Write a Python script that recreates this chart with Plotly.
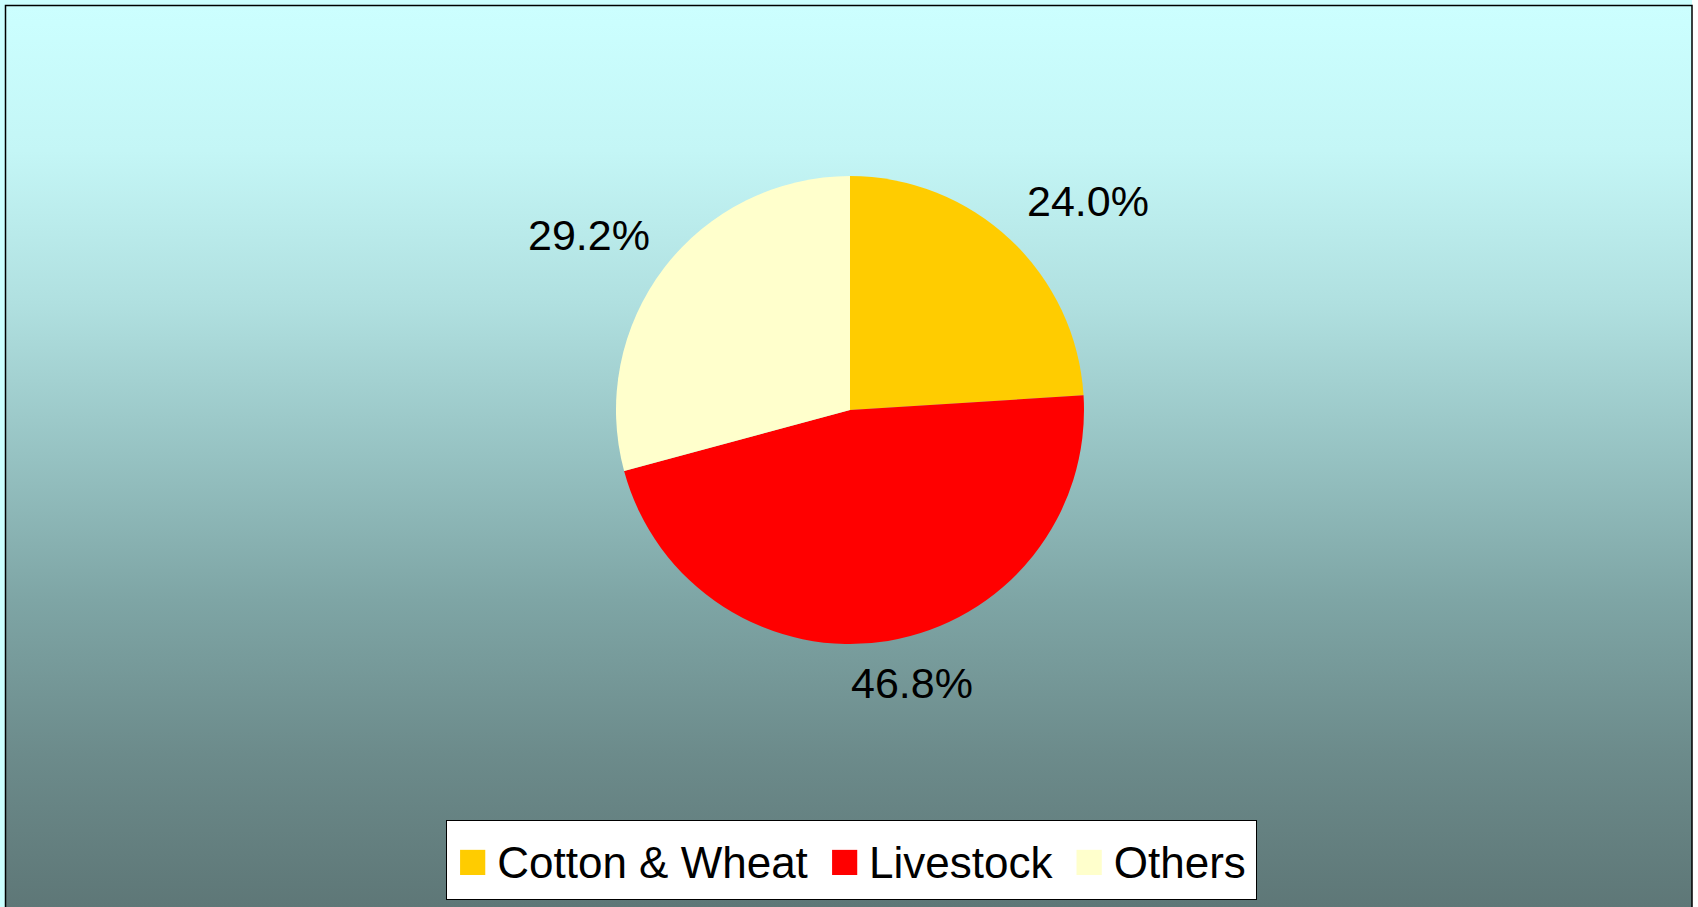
import math
import plotly.graph_objects as go

# data
labels = ["Cotton & Wheat", "Livestock", "Others"]
shares = [24.0, 46.8, 29.2]
colors = ["#FFCC00", "#FF0000", "#FFFFCC"]

W, H = 1698, 907
FONT = "Liberation Sans, Arial, sans-serif"

# pie geometry in pixels
cx, cy, R = 850, 410, 234


def px_x(x):
    return x / W


def px_y(y):
    return (H - y) / H


fig = go.Figure()

# gradient background (chart area)
fig.add_trace(
    go.Scatter(
        x=[6, 1692, 1692, 6, 6],
        y=[-20, -20, H - 6, H - 6, -20],
        mode="lines",
        line=dict(width=0),
        fill="toself",
        fillgradient=dict(
            type="vertical",
            start=0,
            stop=H - 6,
            colorscale=[
                [0.0, "rgb(94,119,119)"],
                [0.17, "rgb(108,139,139)"],
                [0.34, "rgb(126,165,165)"],
                [0.5, "rgb(150,194,194)"],
                [0.67, "rgb(176,224,224)"],
                [0.84, "rgb(196,246,246)"],
                [1.0, "rgb(204,255,255)"],
            ],
        ),
        hoverinfo="skip",
        showlegend=False,
    )
)

fig.add_trace(
    go.Pie(
        labels=labels,
        values=shares,
        marker=dict(colors=colors, line=dict(width=0)),
        sort=False,
        direction="clockwise",
        rotation=0,
        textinfo="none",
        hoverinfo="label+percent",
        showlegend=False,
        domain=dict(
            x=[px_x(cx - R), px_x(cx + R)],
            y=[px_y(cy + R), px_y(cy - R)],
        ),
    )
)

# percentage labels placed around the pie from the slice mid angles
total = sum(shares)
cum = 0
annotations = []
for lab, v in zip(labels, shares):
    mid = (cum + v / 2) / total * 2 * math.pi
    cum += v
    lx = cx + 7 + 1.44 * R * math.sin(mid)
    ly = cy - 4 - 1.2 * R * math.cos(mid)
    annotations.append(
        dict(
            x=px_x(lx), y=px_y(ly), xref="paper", yref="paper",
            text=f"{v / total * 100:.1f}%", showarrow=False,
            font=dict(family=FONT, size=43, color="black"),
            xanchor="center", yanchor="middle",
        )
    )

# legend box
items = []
for lab, c in zip(labels, colors):
    items.append(f"<span style='color:{c};font-size:52px'>■</span>\u2009{lab}")
legend_text = "\u00a0\u2009".join(items)
annotations.append(
    dict(
        x=px_x(851), y=px_y(860), xref="paper", yref="paper",
        text=legend_text, showarrow=False,
        font=dict(family=FONT, size=44, color="black"),
        xanchor="center", yanchor="middle",
        bgcolor="white", bordercolor="black", borderwidth=1, borderpad=10,
    )
)

fig.update_layout(
    width=W,
    height=H,
    margin=dict(l=0, r=0, t=0, b=0),
    paper_bgcolor="white",
    plot_bgcolor="rgba(0,0,0,0)",
    xaxis=dict(range=[0, W], domain=[0, 1], visible=False, fixedrange=True),
    yaxis=dict(range=[0, H], domain=[0, 1], visible=False, fixedrange=True),
    annotations=annotations,
    shapes=[
        # thin cyan strip outside the chart frame
        dict(type="rect", xref="paper", yref="paper", x0=0, x1=px_x(1692),
             y0=0, y1=1, fillcolor="#CCFFFF", line=dict(width=0), layer="below"),
        # chart frame
        dict(type="rect", xref="paper", yref="paper", x0=px_x(5.5), x1=px_x(1692),
             y0=-0.05, y1=px_y(5.5), line=dict(color="black", width=1.5),
             fillcolor="rgba(0,0,0,0)", layer="above"),
    ],
    showlegend=False,
)

fig.write_html(
    "out.html",
    config={"displayModeBar": False},
    post_script="document.body.style.margin='0px';",
)
